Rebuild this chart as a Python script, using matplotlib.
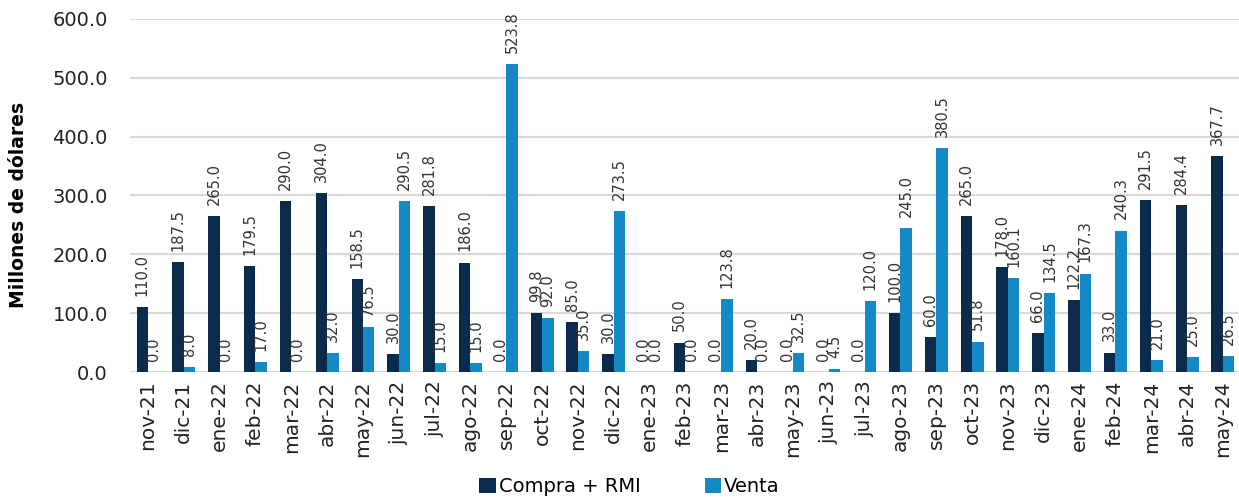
import matplotlib

matplotlib.use("Agg")
import matplotlib.pyplot as plt
import numpy as np

months = ["nov-21", "dic-21", "ene-22", "feb-22", "mar-22", "abr-22", "may-22", "jun-22",
          "jul-22", "ago-22", "sep-22", "oct-22", "nov-22", "dic-22", "ene-23", "feb-23",
          "mar-23", "abr-23", "may-23", "jun-23", "jul-23", "ago-23", "sep-23", "oct-23",
          "nov-23", "dic-23", "ene-24", "feb-24", "mar-24", "abr-24", "may-24"]
compra = [110.0, 187.5, 265.0, 179.5, 290.0, 304.0, 158.5, 30.0, 281.8, 186.0, 0.0, 99.8,
          85.0, 30.0, 0.0, 50.0, 0.0, 20.0, 0.0, 0.0, 0.0, 100.0, 60.0, 265.0,
          178.0, 66.0, 122.2, 33.0, 291.5, 284.4, 367.7]
venta = [0.0, 8.0, 0.0, 17.0, 0.0, 32.0, 76.5, 290.5, 15.0, 15.0, 523.8, 92.0,
         35.0, 273.5, 0.0, 0.0, 123.8, 0.0, 32.5, 4.5, 120.0, 245.0, 380.5, 51.8,
         160.1, 134.5, 167.3, 240.3, 21.0, 25.0, 26.5]

DARK = "#0b2b4c"
LIGHT = "#1589c6"
W = 0.32

fig = plt.figure(figsize=(12.39, 4.99), dpi=100)
ax = fig.add_axes([0.105, 0.2545, 0.895, 0.7075])

x = np.arange(len(months))
b1 = ax.bar(x - W / 2, compra, W, color=DARK, label="Compra + RMI", zorder=3)
b2 = ax.bar(x + W / 2, venta, W, color=LIGHT, label="Venta", zorder=3)

# data labels, rotated, just above each bar
for bars, vals in ((b1, compra), (b2, venta)):
    for rect, v in zip(bars, vals):
        ax.annotate(f"{v:.1f}", (rect.get_x() + rect.get_width() / 2, v),
                    xytext=(0, 8), textcoords="offset points", rotation=90,
                    ha="center", va="bottom", fontsize=10.5, color="#333333",
                    family="DejaVu Sans", zorder=4)

ax.set_ylim(0, 600)
ax.set_xlim(-0.5, 30.45)
ax.set_yticks(np.arange(0, 601, 100))
ax.set_yticklabels([f"{v:.1f}" for v in np.arange(0, 601, 100)])
ax.set_xticks(x)
ax.set_xticklabels(months, rotation=90)
ax.tick_params(axis="y", length=0, pad=16, labelsize=14, labelcolor="#222222")
ax.tick_params(axis="x", length=0, pad=6, labelsize=14.5, labelcolor="#222222")
ax.grid(axis="y", color="#d9d9d9", linewidth=1.5, zorder=0)
for s in ax.spines.values():
    s.set_visible(False)

fig.text(0.015, 0.59, "Millones de dólares", rotation=90, ha="center", va="center",
         fontsize=13.5, fontweight="bold", color="black")

fig.legend(handles=[b1, b2], loc="center", bbox_to_anchor=(0.508, 0.025), ncol=2,
           frameon=False, fontsize=14, handlelength=0.85, handleheight=0.85,
           handletextpad=0.15, columnspacing=3.3)

fig.savefig("out.png", dpi=100)
